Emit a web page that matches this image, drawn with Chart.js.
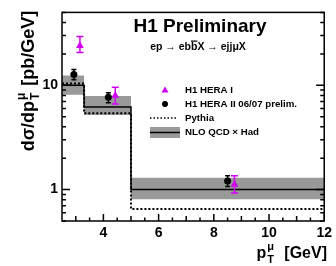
<!DOCTYPE html>
<html>
<head>
<meta charset="utf-8">
<script src="https://cdn.jsdelivr.net/npm/chart.js@4"></script>
<style>
  body { margin: 0; background: #fff; }
  canvas { display: block; }
</style>
</head>
<body>
<canvas id="grafica" width="336" height="266"></canvas>
<script>
// histogram bins (pT in GeV)
const binEdges = [2.5, 3.3, 5, 12];
const nloCentral = [10.0, 6.2, 1.0];
const nloUp = [12.4, 7.9, 1.3];
const nloDown = [8.1, 5.2, 0.81];
const pythia = [10.4, 5.4, 0.65];

// H1 HERA I
const hera1X = [3.15, 4.43, 8.75];
const hera1Y = [24, 8.0, 1.12];
const hera1Hi = [29.3, 9.6, 1.36];
const hera1Lo = [20.6, 6.6, 0.93];

// H1 HERA II 06/07 prelim.
const hera2X = [2.93, 4.18, 8.5];
const hera2Y = [12.7, 7.7, 1.21];
const hera2Hi = [14.2, 8.5, 1.36];
const hera2Lo = [11.3, 6.8, 1.07];

const xTickLabels = [4, 6, 8, 10, 12];
const yTickLabels = [1, 10];

const FONT = '"Liberation Sans", Arial, sans-serif';
const MAGENTA = '#d100f5';
const GRIS = '#999999';

function stepPoints(vals) {
    const pts = vals.map((v, i) => ({ x: binEdges[i], y: v }));
    pts.push({ x: binEdges[binEdges.length - 1], y: vals[vals.length - 1] });
    return pts;
}

function puntos(xs, ys) {
    return xs.map((x, i) => ({ x: x, y: ys[i] }));
}

// error bars drawn just before the markers of their dataset
const barrasError = {
    id: 'barrasError',
    beforeDatasetDraw(chart, args) {
        const ds = chart.data.datasets[args.index];
        if (!ds.errHi) return;
        const ctx = chart.ctx;
        const y = chart.scales.y;
        const meta = chart.getDatasetMeta(args.index);
        ctx.save();
        ctx.strokeStyle = ds.borderColor;
        ctx.lineWidth = 1.5;
        meta.data.forEach((el, i) => {
            const yh = y.getPixelForValue(ds.errHi[i]);
            const yl = y.getPixelForValue(ds.errLo[i]);
            ctx.beginPath();
            ctx.moveTo(el.x, yh); ctx.lineTo(el.x, yl);
            ctx.moveTo(el.x - ds.cap, yh); ctx.lineTo(el.x + ds.cap, yh);
            ctx.moveTo(el.x - ds.cap, yl); ctx.lineTo(el.x + ds.cap, yl);
            ctx.stroke();
        });
        ctx.restore();
    }
};

// frame, inward ticks, titles and legend
const decoracion = {
    id: 'decoracion',
    afterDraw(chart) {
        const ctx = chart.ctx;
        const a = chart.chartArea;
        const xs = chart.scales.x;
        const ys = chart.scales.y;
        ctx.save();
        ctx.strokeStyle = '#000';
        ctx.lineWidth = 1.5;
        ctx.strokeRect(a.left, a.top, a.right - a.left, a.bottom - a.top);

        // x ticks
        ctx.beginPath();
        for (let v = 3; v <= 12; v += 0.5) {
            const px = xs.getPixelForValue(v);
            const len = xTickLabels.includes(v) ? 7 : (Number.isInteger(v) ? 5 : 3.5);
            ctx.moveTo(px, a.bottom); ctx.lineTo(px, a.bottom - len);
        }
        // y ticks, both sides
        [0.1, 1, 10].forEach(dec => {
            for (let k = 1; k <= 9; k++) {
                const v = k * dec;
                if (v < 0.5 || v > 50) continue;
                const py = ys.getPixelForValue(v);
                const len = k === 1 ? 8 : 4;
                ctx.moveTo(a.left, py); ctx.lineTo(a.left + len, py);
                ctx.moveTo(a.right, py); ctx.lineTo(a.right - len, py);
            }
        });
        ctx.stroke();

        ctx.fillStyle = '#000';
        // title
        ctx.font = 'bold 19px ' + FONT;
        ctx.textAlign = 'center';
        ctx.textBaseline = 'alphabetic';
        ctx.fillText('H1 Preliminary', 200, 32);

        // reaction
        ctx.font = 'bold 10.5px ' + FONT;
        ctx.textAlign = 'left';
        const p1 = 'ep \u2192 eb', p2 = 'b', p3 = 'X \u2192 ejj\u03bcX';
        const total = ctx.measureText(p1 + p2 + p3).width;
        let x0 = 198 - total / 2;
        ctx.fillText(p1, x0, 50);
        x0 += ctx.measureText(p1).width;
        const wb = ctx.measureText(p2).width;
        ctx.fillText(p2, x0, 50);
        ctx.fillRect(x0, 40.5, wb, 1.2);
        x0 += wb;
        ctx.fillText(p3, x0, 50);

        // legend
        ctx.font = 'bold 9.7px ' + FONT;
        ctx.textBaseline = 'middle';
        const lx = 185;
        ctx.fillText('H1 HERA I', lx, 90);
        ctx.fillText('H1 HERA II 06/07 prelim.', lx, 104);
        ctx.fillText('Pythia', lx, 118);
        ctx.fillText('NLO QCD \u00d7 Had', lx, 132);
        ctx.fillStyle = MAGENTA;
        ctx.beginPath();
        ctx.moveTo(165, 86.5); ctx.lineTo(168.5, 92.5); ctx.lineTo(161.5, 92.5);
        ctx.closePath(); ctx.fill();
        ctx.fillStyle = '#000';
        ctx.beginPath(); ctx.arc(165, 104, 3, 0, Math.PI * 2); ctx.fill();
        ctx.setLineDash([1.5, 2]);
        ctx.lineWidth = 1.5;
        ctx.beginPath(); ctx.moveTo(150, 118); ctx.lineTo(178, 118); ctx.stroke();
        ctx.setLineDash([]);
        ctx.fillStyle = GRIS;
        ctx.fillRect(150, 127, 30, 11);
        ctx.beginPath(); ctx.moveTo(150, 132.5); ctx.lineTo(180, 132.5); ctx.stroke();

        // axis titles
        ctx.fillStyle = '#000';
        ctx.textBaseline = 'alphabetic';
        dibujarTitulo(ctx, 'p', ' [GeV]', 16, 327, 258, 6, true);
        ctx.save();
        ctx.translate(34, 81);
        ctx.rotate(-Math.PI / 2);
        dibujarTitulo(ctx, 'd\u03c3/dp', ' [pb/GeV]', 18, 0, 0, 2, false);
        ctx.restore();
        ctx.restore();
    }
};

function dibujarTitulo(ctx, base, rest, size, x, y, gap, alignRight) {
    const small = Math.round(size * 0.68);
    ctx.font = 'bold ' + size + 'px ' + FONT;
    const wBase = ctx.measureText(base).width;
    const wRest = ctx.measureText(rest).width;
    ctx.font = 'bold ' + small + 'px ' + FONT;
    const wSup = ctx.measureText('\u03bc').width;
    const wSub = ctx.measureText('T').width;
    const wScript = Math.max(wSup, wSub) + gap;
    const total = wBase + 1 + wScript + wRest;
    let cx = alignRight ? x - total : x - total / 2;
    ctx.font = 'bold ' + size + 'px ' + FONT;
    ctx.fillText(base, cx, y);
    cx += wBase + 1;
    ctx.font = 'bold ' + small + 'px ' + FONT;
    ctx.fillText('\u03bc', cx, y - size * 0.5);
    ctx.fillText('T', cx, y + size * 0.3);
    cx += wScript;
    ctx.font = 'bold ' + size + 'px ' + FONT;
    ctx.fillText(rest, cx, y);
}

new Chart(document.getElementById('grafica'), {
    type: 'line',
    data: {
        datasets: [
            {
                label: 'H1 HERA II 06/07 prelim.',
                data: puntos(hera2X, hera2Y),
                errHi: hera2Hi, errLo: hera2Lo, cap: 2.5,
                showLine: false,
                pointStyle: 'circle', pointRadius: 3.5,
                backgroundColor: '#000', borderColor: '#000', borderWidth: 0,
                order: 1
            },
            {
                label: 'H1 HERA I',
                data: puntos(hera1X, hera1Y),
                errHi: hera1Hi, errLo: hera1Lo, cap: 3.5,
                showLine: false,
                pointStyle: 'triangle', pointRadius: 4.5,
                backgroundColor: MAGENTA, borderColor: MAGENTA, borderWidth: 0,
                order: 0
            },
            {
                label: 'NLO QCD x Had',
                data: stepPoints(nloCentral),
                stepped: 'before',
                borderColor: '#000', borderWidth: 1.5,
                pointRadius: 0, fill: false,
                order: 2
            },
            {
                label: 'Pythia',
                data: stepPoints(pythia),
                stepped: 'before',
                borderColor: '#000', borderWidth: 2, borderDash: [2, 2],
                pointRadius: 0, fill: false,
                order: 3
            },
            {
                label: 'band up',
                data: stepPoints(nloUp),
                stepped: 'before',
                borderWidth: 0, borderColor: 'rgba(0,0,0,0)',
                backgroundColor: GRIS,
                pointRadius: 0, fill: '+1',
                order: 4
            },
            {
                label: 'band down',
                data: stepPoints(nloDown),
                stepped: 'before',
                borderWidth: 0, borderColor: 'rgba(0,0,0,0)',
                pointRadius: 0, fill: false,
                order: 5
            }
        ]
    },
    options: {
        responsive: false,
        animation: false,
        layout: { padding: { top: 7, right: 9, left: 0, bottom: 0 } },
        plugins: { legend: { display: false }, tooltip: { enabled: false } },
        scales: {
            x: {
                type: 'linear', min: 2.5, max: 12,
                grid: { display: false, drawTicks: false },
                border: { display: false },
                ticks: {
                    stepSize: 0.5, autoSkip: false, maxRotation: 0, padding: 4,
                    color: '#000', font: { family: FONT, size: 14, weight: 'bold' },
                    callback: v => xTickLabels.includes(v) ? String(v) : ''
                },
                afterFit: s => { s.height = 45; }
            },
            y: {
                type: 'logarithmic', min: 0.5, max: 50,
                grid: { display: false, drawTicks: false },
                border: { display: false },
                ticks: {
                    autoSkip: false, padding: 4,
                    color: '#000', font: { family: FONT, size: 14, weight: 'bold' },
                    callback: v => yTickLabels.includes(v) ? String(v) : ''
                },
                afterFit: s => { s.width = 62; }
            }
        }
    },
    plugins: [barrasError, decoracion]
});
</script>
</body>
</html>
